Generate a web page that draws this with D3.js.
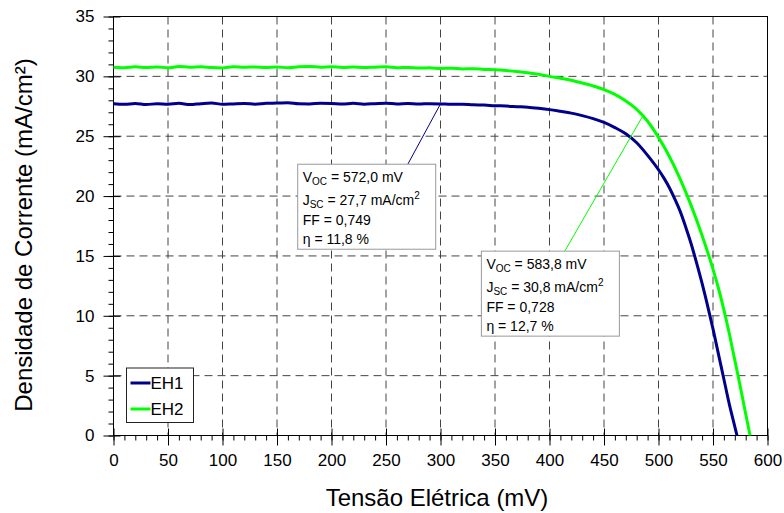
<!DOCTYPE html>
<html>
<head>
<meta charset="utf-8">
<script src="https://cdn.jsdelivr.net/npm/d3@7"></script>
<style>
    body { margin: 0; background: #fff; }
    svg { font-family: Arial, "Liberation Sans", sans-serif; }
    .grid line { stroke: #444; stroke-dasharray: 8,5; stroke-width: 1; }
    .curve { fill: none; stroke-width: 3; stroke-linejoin: round; }
</style>
</head>
<body>
<svg width="784" height="513"></svg>
<script>
// tensao (mV) e densidade de corrente (mA/cm2)
var vEH1 = [0, 10, 20, 30, 40, 50, 60, 70, 80, 90, 100, 110, 120, 130, 140, 150, 160, 170, 180, 190,
    200, 210, 220, 230, 240, 250, 260, 270, 280, 290, 300, 310, 320, 330, 340, 350, 360, 370, 380, 390,
    400, 410, 420, 430, 440, 450, 460, 470, 480, 490, 500, 505, 510, 515, 520, 525, 530, 535, 540, 545,
    550, 555, 560, 565, 570, 572];
var jEH1 = [27.72, 27.66, 27.74, 27.65, 27.71, 27.68, 27.75, 27.64, 27.72, 27.78, 27.66, 27.70, 27.73, 27.68, 27.75, 27.77, 27.80, 27.71, 27.70, 27.76,
    27.74, 27.69, 27.75, 27.68, 27.72, 27.76, 27.70, 27.74, 27.69, 27.72, 27.70, 27.66, 27.68, 27.62, 27.60, 27.55, 27.52, 27.47, 27.42, 27.33,
    27.22, 27.08, 26.93, 26.72, 26.47, 26.15, 25.72, 25.20, 24.45, 23.40, 22.20, 21.50, 20.70, 19.75, 18.70, 17.40, 16.00, 14.40, 12.70, 10.85,
    8.90, 6.80, 4.70, 2.60, 0.75, 0];

var vEH2 = [0, 10, 20, 30, 40, 50, 60, 70, 80, 90, 100, 110, 120, 130, 140, 150, 160, 170, 180, 190,
    200, 210, 220, 230, 240, 250, 260, 270, 280, 290, 300, 310, 320, 330, 340, 350, 360, 370, 380, 390,
    400, 410, 420, 430, 440, 450, 460, 470, 480, 490, 500, 510, 520, 530, 540, 550, 555, 560, 565, 570,
    575, 580, 584];
var jEH2 = [30.76, 30.72, 30.80, 30.74, 30.79, 30.71, 30.82, 30.77, 30.80, 30.73, 30.70, 30.81, 30.76, 30.79, 30.74, 30.78, 30.72, 30.80, 30.83, 30.76,
    30.81, 30.74, 30.79, 30.73, 30.77, 30.80, 30.72, 30.75, 30.69, 30.71, 30.66, 30.68, 30.62, 30.64, 30.58, 30.55, 30.49, 30.41, 30.31, 30.17,
    30.00, 29.85, 29.68, 29.45, 29.20, 28.90, 28.50, 27.95, 27.25, 26.25, 24.90, 23.30, 21.40, 19.20, 16.70, 13.90, 12.30, 10.50, 8.50, 6.30,
    4.10, 1.80, 0];

var series = [
    {name: 'EH1', v: vEH1, j: jEH1, color: '#00008b'},
    {name: 'EH2', v: vEH2, j: jEH2, color: '#00ff00'}
];

var xTicks = [0, 50, 100, 150, 200, 250, 300, 350, 400, 450, 500, 550, 600];
var yTicks = [0, 5, 10, 15, 20, 25, 30, 35];

// caixas de texto: ponto na curva e canto da caixa (mV, mA/cm2)
var notes = [
    {color: '#00008b', target: [300, 27.7], anchor: [270, 22.66], box: [169, 22.66],
        lines: [['V', 'OC', ' = 572,0 mV', ''], ['J', 'SC', ' = 27,7 mA/cm', '2'], ['FF = 0,749', '', '', ''], ['\u03b7 = 11,8 %', '', '', '']]},
    {color: '#00ff00', target: [485, 26.6], anchor: [414, 15.4], box: [337.5, 15.4],
        lines: [['V', 'OC', ' = 583,8 mV', ''], ['J', 'SC', ' = 30,8 mA/cm', '2'], ['FF = 0,728', '', '', ''], ['\u03b7 = 12,7 %', '', '', '']]}
];

var margin = {left: 113.5, top: 16.5},
    width = 654,
    height = 419;

var svg = d3.select('svg');
var g = svg.append('g').attr('transform', 'translate(' + margin.left + ',' + margin.top + ')');

var x = d3.scaleLinear().domain([0, 600]).range([0, width]);
var y = d3.scaleLinear().domain([0, 35]).range([height, 0]);

// grade tracejada
var grid = g.append('g').attr('class', 'grid');
grid.selectAll('.gx')
    .data(xTicks.slice(1, -1))
    .enter().append('line')
    .attr('x1', function (d) { return x(d); })
    .attr('x2', function (d) { return x(d); })
    .attr('y1', 0)
    .attr('y2', height);
grid.selectAll('.gy')
    .data(yTicks.slice(1, -1))
    .enter().append('line')
    .attr('x1', 0)
    .attr('x2', width)
    .attr('y1', function (d) { return y(d); })
    .attr('y2', function (d) { return y(d); });

// moldura
g.append('rect')
    .attr('width', width)
    .attr('height', height)
    .attr('fill', 'none')
    .attr('stroke', '#000');

// eixo X: menores para fora, maiores cruzando
var xAxis = g.append('g').attr('transform', 'translate(0,' + height + ')');
xAxis.call(d3.axisBottom(x).ticks(60).tickSize(5).tickFormat(''))
    .call(function (s) { s.select('.domain').remove(); });
xAxis.append('g')
    .call(d3.axisBottom(x).tickValues(xTicks).tickSize(10).tickPadding(8))
    .call(function (s) {
        s.select('.domain').remove();
        s.selectAll('.tick line').attr('y1', -7);
        s.selectAll('text').attr('font-size', 17).attr('font-family', 'Arial, "Liberation Sans", sans-serif').attr('fill', '#000');
    });

// eixo Y
var yAxis = g.append('g');
yAxis.call(d3.axisLeft(y).ticks(35).tickSize(5).tickFormat(''))
    .call(function (s) { s.select('.domain').remove(); });
yAxis.append('g')
    .call(d3.axisLeft(y).tickValues(yTicks).tickSize(10).tickPadding(9))
    .call(function (s) {
        s.select('.domain').remove();
        s.selectAll('.tick line').attr('x1', 7);
        s.selectAll('text').attr('font-size', 17).attr('font-family', 'Arial, "Liberation Sans", sans-serif').attr('fill', '#000');
    });

// curvas J-V
var line = d3.line()
    .curve(d3.curveMonotoneX)
    .x(function (d) { return x(d[0]); })
    .y(function (d) { return y(d[1]); });

g.selectAll('.curve')
    .data(series)
    .enter().append('path')
    .attr('class', 'curve')
    .attr('stroke', function (d) { return d.color; })
    .attr('d', function (d) { return line(d3.zip(d.v, d.j)); });

// anotacoes
notes.forEach(function (n) {
    g.append('line')
        .attr('x1', x(n.target[0])).attr('y1', y(n.target[1]))
        .attr('x2', x(n.anchor[0])).attr('y2', y(n.anchor[1]))
        .attr('stroke', n.color).attr('stroke-width', 1);
    var bx = x(n.box[0]), by = y(n.box[1]);
    g.append('rect')
        .attr('x', bx).attr('y', by)
        .attr('width', 138).attr('height', 85)
        .attr('fill', '#fff').attr('stroke', '#999');
    var offs = [18, 41, 61, 80];
    n.lines.forEach(function (l, i) {
        var t = g.append('text')
            .attr('x', bx + 5).attr('y', by + offs[i])
            .attr('font-size', 14).attr('fill', '#000');
        t.append('tspan').text(l[0]);
        if (l[1]) t.append('tspan').attr('font-size', 10).attr('dy', 3).text(l[1]);
        if (l[2]) t.append('tspan').attr('dy', l[1] ? -3 : 0).text(l[2]);
        if (l[3]) t.append('tspan').attr('font-size', 10).attr('dy', -6).text(l[3]);
    });
});

// legenda
var leg = g.append('g').attr('transform', 'translate(' + (126.5 - margin.left) + ',' + (368 - margin.top) + ')');
leg.append('rect')
    .attr('width', 67).attr('height', 54.5)
    .attr('fill', '#fff').attr('stroke', '#222');
leg.selectAll('.li')
    .data(series)
    .enter().append('g')
    .attr('transform', function (d, i) { return 'translate(0,' + (15 + i * 26) + ')'; })
    .each(function (d) {
        var s = d3.select(this);
        s.append('line').attr('x1', 4).attr('x2', 24).attr('stroke', d.color).attr('stroke-width', 3);
        s.append('text').attr('x', 24).attr('dy', 6).attr('font-size', 17).text(d.name);
    });

// titulos dos eixos
svg.append('text')
    .attr('x', 437).attr('y', 506)
    .attr('text-anchor', 'middle')
    .attr('font-size', 24)
    .text('Tensão Elétrica (mV)');
svg.append('text')
    .attr('transform', 'translate(32,235) rotate(-90)')
    .attr('text-anchor', 'middle')
    .attr('font-size', 24)
    .text('Densidade de Corrente (mA/cm²)');
</script>
</body>
</html>
